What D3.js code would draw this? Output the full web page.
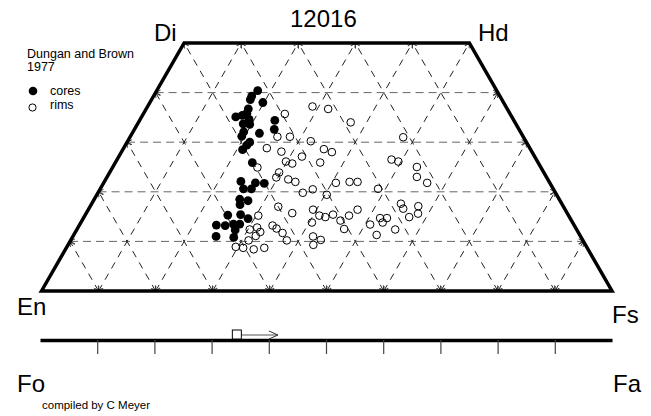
<!DOCTYPE html>
<html>
<head>
<meta charset="utf-8">
<script src="https://cdn.jsdelivr.net/npm/d3@7/dist/d3.min.js"></script>
<style>
  body { margin: 0; background: #fff; }
  svg { display: block; font-family: Arial, "Liberation Sans", sans-serif; }
</style>
</head>
<body>
<div id="chart"></div>
<script>
// pyroxene analyses, [Wo, Fs] in mol% (En = 100 - Wo - Fs)
const cores = [
  [40.4, 17.7], [39.3, 17.2], [38.6, 17.3], [38.0, 19.8], [36.7, 17.9], [35.8, 18.1],
  [35.1, 16.5], [35.4, 17.5], [34.6, 19.1], [34.4, 23.7], [33.7, 18.5], [33.6, 19.7],
  [32.6, 24.5], [31.8, 22.3], [32.1, 19.4], [31.2, 19.5], [30.0, 21.5], [29.4, 21.3],
  [28.5, 21.0], [25.9, 24.0], [22.1, 23.9], [21.8, 26.6], [21.7, 28.2], [20.6, 25.1],
  [20.6, 26.5], [18.5, 25.5], [18.2, 27.1], [17.4, 26.1], [15.3, 25.0], [15.4, 27.2],
  [13.3, 24.0], [13.2, 25.6], [13.5, 26.9], [13.5, 28.0], [14.6, 28.9], [12.3, 27.8],
  [11.0, 25.1], [10.8, 28.3]
];
const rims = [
  [35.7, 24.8], [37.2, 28.9], [36.7, 31.9], [34.0, 37.2], [31.0, 47.9], [31.1, 25.8],
  [31.1, 28.0], [30.2, 32.1], [28.8, 25.1], [28.1, 28.0], [28.6, 35.2], [28.0, 36.9],
  [27.1, 32.1], [26.1, 29.8], [25.7, 31.1], [25.9, 35.9], [24.9, 25.4], [23.9, 29.7],
  [22.9, 29.7], [22.5, 32.0], [22.0, 33.5], [20.5, 37.3], [19.8, 35.9], [21.8, 40.7],
  [22.0, 43.0], [22.0, 44.4], [20.6, 48.7], [26.5, 48.1], [26.1, 49.5], [25.0, 53.3],
  [23.0, 54.3], [21.8, 56.7], [17.6, 54.2], [16.6, 55.1], [14.9, 57.0], [17.1, 57.5],
  [15.6, 58.2], [17.0, 33.0], [15.7, 36.1], [15.2, 30.4], [16.4, 39.4], [13.8, 40.5],
  [11.0, 42.1], [9.3, 43.0], [10.3, 43.8], [15.2, 41.1], [14.9, 42.3], [15.4, 43.4],
  [14.2, 45.3], [12.5, 46.8], [15.2, 46.3], [16.4, 47.2], [13.4, 50.9], [14.7, 52.0],
  [14.7, 53.2], [13.8, 52.9], [11.3, 53.1], [12.4, 55.8], [13.2, 33.9], [12.6, 34.9],
  [11.7, 36.4], [10.2, 37.9], [12.8, 31.4], [12.4, 30.3], [11.9, 32.4], [11.1, 32.0],
  [10.2, 31.2], [8.9, 29.6], [8.7, 31.0], [8.4, 33.0], [8.7, 34.7], [19.4, 40.3]
];
// olivine Fa range: start (square) and end (arrow tip)
const olivineFa = [34.5, 41.6];
const woLevels = [10, 20, 30, 40];
const steps = [10, 20, 30, 40, 50, 60, 70, 80, 90];
const faTicks = [10, 20, 30, 40, 50, 60, 70, 80, 90];

const width = 651, height = 416;

const svg = d3.select('#chart').append('svg')
  .attr('width', width)
  .attr('height', height);

const defs = svg.append('defs');
defs.append('marker')
  .attr('id', 'tip')
  .attr('markerUnits', 'userSpaceOnUse')
  .attr('markerWidth', 10).attr('markerHeight', 10)
  .attr('refX', 5).attr('refY', 5)
  .attr('orient', 'auto-start-reverse')
  .append('path')
  .attr('d', 'M0,2.5 L5,5 L0,7.5')
  .attr('fill', 'none')
  .attr('stroke', '#333')
  .attr('stroke-width', 0.9);

// ternary frame: horizontal position uses Fs + Wo/2, vertical uses Wo
const x = d3.scaleLinear().domain([0, 100]).range([41.5, 612]);
const y = d3.scaleLinear().domain([0, 50]).range([291, 43]);
const pt = (wo, fs) => [x(fs + wo / 2), y(wo)];

// grid lines
const gridLines = [];
woLevels.forEach((wo) => gridLines.push({ a: pt(wo, 0), b: pt(wo, 100 - wo), h: true }));
steps.forEach((f) => {
  // constant Fs
  gridLines.push({ a: pt(0, f), b: f <= 50 ? pt(50, f) : pt(100 - f, f) });
  // constant En
  const e = f;
  gridLines.push({ a: pt(0, 100 - e), b: e <= 50 ? pt(50, 50 - e) : pt(100 - e, 0) });
});

svg.append('g').selectAll('line')
  .data(gridLines)
  .join('line')
  .attr('x1', (d) => d.a[0]).attr('y1', (d) => d.a[1])
  .attr('x2', (d) => d.b[0]).attr('y2', (d) => d.b[1])
  .attr('stroke', (d) => d.h ? '#666' : '#222')
  .attr('stroke-width', 1)
  .attr('stroke-dasharray', (d) => d.h ? '8,5' : '7,6')
  .attr('marker-start', 'url(#tip)')
  .attr('marker-end', 'url(#tip)');

// quadrilateral outline
const corners = [pt(0, 0), pt(50, 0), pt(50, 50), pt(0, 100)];
svg.append('path')
  .attr('d', d3.line()(corners) + 'Z')
  .attr('fill', 'none')
  .attr('stroke', '#000')
  .attr('stroke-width', 3.5)
  .attr('stroke-linejoin', 'miter');

// data
svg.append('g').selectAll('circle')
  .data(rims)
  .join('circle')
  .attr('cx', (d) => pt(d[0], d[1])[0])
  .attr('cy', (d) => pt(d[0], d[1])[1])
  .attr('r', 3.8)
  .attr('fill', 'none')
  .attr('stroke', '#000')
  .attr('stroke-width', 1);

svg.append('g').selectAll('circle')
  .data(cores)
  .join('circle')
  .attr('cx', (d) => pt(d[0], d[1])[0])
  .attr('cy', (d) => pt(d[0], d[1])[1])
  .attr('r', 4.4)
  .attr('fill', '#000');

// corner labels
const big = (t, px, py) => svg.append('text').attr('x', px).attr('y', py)
  .attr('font-size', 24).attr('fill', '#000').text(t);
big('12016', 290, 27);
big('Di', 154, 41);
big('Hd', 478, 41);
big('En', 17, 315);
big('Fs', 612, 323);
big('Fo', 17, 392);
big('Fa', 613, 392);

// olivine Fo-Fa bar
const xo = d3.scaleLinear().domain([0, 100]).range([40, 612]);
const axis = svg.append('g')
  .attr('transform', 'translate(0,340)')
  .call(d3.axisBottom(xo).tickValues(faTicks).tickFormat('').tickSize(14).tickSizeOuter(0));
axis.select('.domain').attr('stroke', '#000').attr('stroke-width', 3.5);
axis.selectAll('.tick line').attr('stroke', '#444').attr('stroke-width', 1.2);

const oy = 335;
svg.append('line')
  .attr('x1', xo(olivineFa[0])).attr('y1', oy)
  .attr('x2', xo(olivineFa[1])).attr('y2', oy)
  .attr('stroke', '#555').attr('stroke-width', 1.2);
svg.append('path')
  .attr('d', `M${xo(olivineFa[1]) - 9},${oy - 4} L${xo(olivineFa[1])},${oy} L${xo(olivineFa[1]) - 9},${oy + 4}`)
  .attr('fill', 'none').attr('stroke', '#333').attr('stroke-width', 1);
svg.append('rect')
  .attr('x', xo(olivineFa[0]) - 5).attr('y', oy - 5)
  .attr('width', 9).attr('height', 9)
  .attr('fill', '#fff').attr('stroke', '#000').attr('stroke-width', 1);

// legend
const small = (t, px, py, fs) => svg.append('text').attr('x', px).attr('y', py)
  .attr('font-size', fs || 12.5).attr('fill', '#000').text(t);
small('Dungan and Brown', 27, 57.5);
small('1977', 27, 70.5);
svg.append('circle').attr('cx', 33).attr('cy', 91).attr('r', 4.3).attr('fill', '#000');
small('cores', 50, 94.5);
svg.append('circle').attr('cx', 32.5).attr('cy', 107.5).attr('r', 3.6)
  .attr('fill', 'none').attr('stroke', '#000').attr('stroke-width', 1);
small('rims', 50, 109);
small('compiled by C Meyer', 42, 409, 11.5);
</script>
</body>
</html>
